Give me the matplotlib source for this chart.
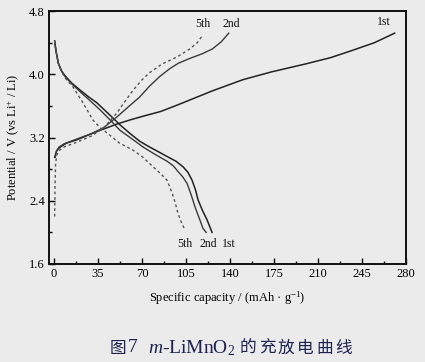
import matplotlib
matplotlib.use("Agg")
import matplotlib.pyplot as plt

plt.rcParams["mathtext.fontset"] = "custom"
plt.rcParams["mathtext.rm"] = "Liberation Serif"
plt.rcParams["mathtext.it"] = "Liberation Serif:italic"

# Charge curves (capacity mAh/g, potential V)
c1_x = [0.5, 2, 5, 10, 18, 27, 36.6, 50, 60, 71, 85, 98, 112, 126, 150, 173, 200, 220, 237, 255, 271]
c1_y = [2.95, 3.03, 3.08, 3.13, 3.17, 3.23, 3.29, 3.37, 3.42, 3.47, 3.53, 3.61, 3.70, 3.79, 3.93, 4.03, 4.13, 4.21, 4.30, 4.40, 4.52]
c2_x = [1, 2, 4, 8, 18, 30, 40, 50, 60, 68, 76, 84, 92, 99, 108, 118, 126, 133, 139]
c2_y = [2.95, 3.03, 3.08, 3.12, 3.18, 3.25, 3.33, 3.46, 3.60, 3.71, 3.85, 3.97, 4.07, 4.14, 4.20, 4.26, 4.32, 4.41, 4.52]
c5_x = [0.5, 0.8, 1.2, 2, 3.5, 8, 18, 30, 40, 50, 57, 63, 70, 76, 86, 98, 108, 114, 118.5]
c5_y = [2.2, 2.6, 2.85, 2.97, 3.03, 3.08, 3.14, 3.22, 3.33, 3.51, 3.67, 3.80, 3.93, 4.02, 4.13, 4.22, 4.32, 4.40, 4.50]

# Discharge curves
d1_x = [0.5, 1.5, 3.4, 6, 8.8, 14, 20.7, 27, 34, 40, 46, 52.5, 60.5, 68.4, 76, 83, 89.9, 97, 102.6, 106.5, 109.8, 112.5, 114.6, 118, 121.7, 125.7]
d1_y = [4.42, 4.30, 4.14, 4.04, 3.98, 3.89, 3.80, 3.72, 3.64, 3.55, 3.46, 3.36, 3.25, 3.15, 3.08, 3.02, 2.96, 2.90, 2.83, 2.76, 2.66, 2.54, 2.41, 2.28, 2.16, 2.0]
d2_x = [0.5, 1.5, 3.4, 6, 8.8, 14, 20.7, 27, 36.6, 46, 52.5, 60.5, 70.8, 80, 89.9, 95, 98.6, 102.5, 105.8, 109, 112.2, 115.5, 118.5, 121]
d2_y = [4.42, 4.30, 4.14, 4.04, 3.97, 3.88, 3.78, 3.69, 3.55, 3.40, 3.29, 3.20, 3.08, 2.99, 2.90, 2.84, 2.77, 2.70, 2.62, 2.48, 2.32, 2.18, 2.05, 2.0]
d5_x = [0.5, 1.5, 3.4, 6, 9, 15, 23, 31, 37, 42, 52, 62.8, 70, 78.8, 85, 89.9, 93.9, 96.5, 98.6, 101.5, 104.2]
d5_y = [4.42, 4.30, 4.14, 4.03, 3.95, 3.84, 3.64, 3.42, 3.32, 3.26, 3.13, 3.04, 2.96, 2.83, 2.74, 2.66, 2.50, 2.37, 2.24, 2.12, 2.03]

xticks = [0, 35, 70, 105, 140, 175, 210, 245, 280]
yticks = [1.6, 2.4, 3.2, 4.0, 4.8]

bg = "#ebebeb"
fig = plt.figure(figsize=(4.25, 3.62), dpi=100, facecolor=bg)
ax = fig.add_axes([49/425, 1-264/362, (406-49)/425, (264-11)/362])
ax.set_facecolor(bg)

serif = ["Liberation Serif", "DejaVu Serif"]
cjk = ["Noto Sans CJK SC", "DejaVu Sans"]
lc = "#222222"
ax.plot(c1_x, c1_y, color=lc, lw=1.1)
ax.plot(d1_x, d1_y, color=lc, lw=1.1)
ax.plot(c2_x, c2_y, color="#3a3a3a", lw=1.0)
ax.plot(d2_x, d2_y, color="#3a3a3a", lw=1.0)
ax.plot(c5_x, c5_y, color="#555555", lw=1.0, ls=(0, (2, 2)))
ax.plot(d5_x, d5_y, color="#555555", lw=1.0, ls=(0, (2, 2)))

ax.set_xlim(-4, 280)
ax.set_ylim(1.6, 4.8)
ax.set_xticks(xticks)
ax.set_yticks(yticks)
ax.set_xticks([17.5 + 35*i for i in range(8)], minor=True)
ax.set_yticks([2.0, 2.8, 3.6, 4.4], minor=True)
ax.set_xticklabels([str(t) for t in xticks], fontfamily=serif, fontsize=9)
ax.set_yticklabels([f"{t:.1f}" for t in yticks], fontfamily=serif, fontsize=9)
ax.tick_params(which="major", direction="in", length=4, width=1, pad=3)
ax.tick_params(which="minor", direction="in", length=2.5, width=1)
for s in ax.spines.values():
    s.set_linewidth(1.4)
    s.set_color("#111111")

ax.set_xlabel("Specific capacity / (mAh · g$^{-1}$)", fontfamily=serif, fontsize=9, labelpad=7)
ax.set_ylabel("Potential / V (vs Li$^{+}$ / Li)", fontfamily=serif, fontsize=9, labelpad=5)

# curve labels
for txt, x, y in [("5th", 118, 4.64), ("2nd", 141, 4.64), ("1st", 262, 4.66),
                  ("5th", 104, 1.85), ("2nd", 123, 1.85), ("1st", 139, 1.85)]:
    ax.text(x, y, txt, fontfamily=serif, fontsize=8.5, ha="center", va="center", color="#111111")

# caption
cap_y = 1 - 348/362
cap_c = "#1c2350"
fig.text(110/425, cap_y, "图", fontfamily=cjk, fontsize=12, ha="left", va="center", color=cap_c)
fig.text(128/425, cap_y, "7", fontfamily=serif, fontsize=14, ha="left", va="center", color=cap_c)
fig.text(148/425, cap_y, "$m$-LiMnO$_2$", fontfamily=serif, fontsize=14,
         ha="left", va="center", color=cap_c)
for i, ch in enumerate("的充放电曲线"):
    fig.text((240 + 19*i)/425, cap_y, ch, fontfamily=cjk, fontsize=12,
             ha="left", va="center", color=cap_c)

fig.savefig("out.png", dpi=100, facecolor=bg)
